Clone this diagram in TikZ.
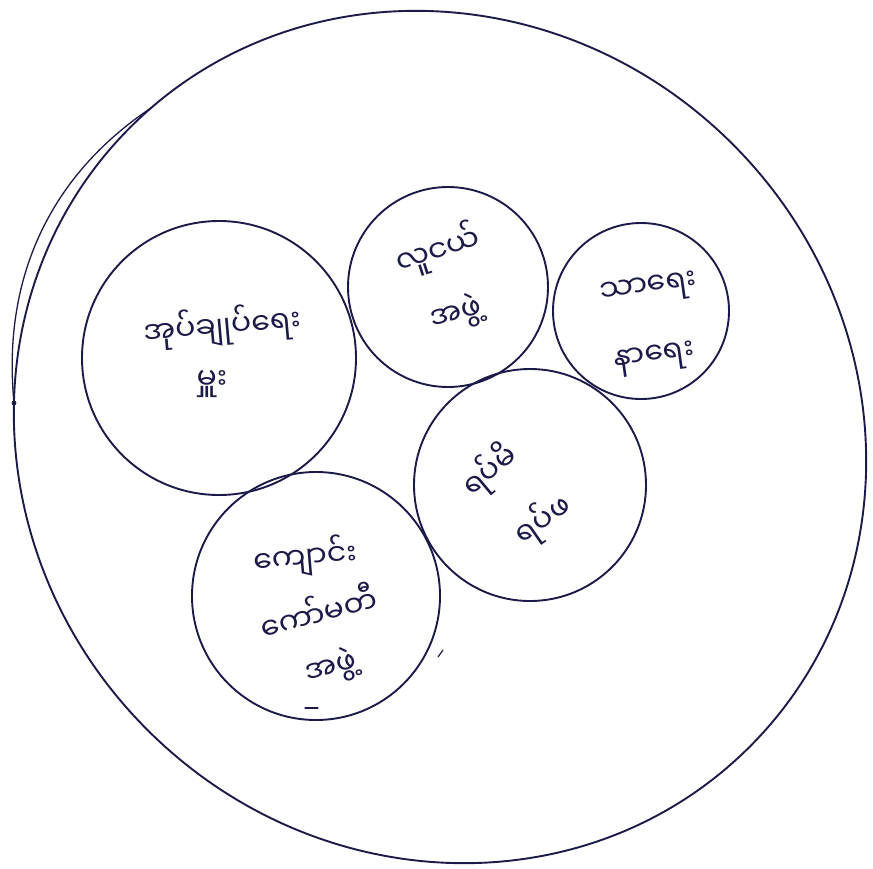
\documentclass[tikz,border=0pt]{standalone}
\usepackage{fontspec}
\usetikzlibrary{shapes.geometric}
\newfontfamily\mya[Script=Myanmar]{Noto Sans Myanmar UI}
\definecolor{ink}{RGB}{28,26,72}
\tikzset{
 ring/.style={draw=ink, line width=1.9pt, circle, inner sep=0pt, minimum size=#1},
 lbl/.style={text=ink, inner sep=0pt, font=\mya\fontsize{30}{34}\selectfont},
 stroke/.style={draw=ink, line width=1.9pt, line cap=round, line join=round}
}
\begin{document}
\begin{tikzpicture}[x=1pt,y=-1pt]
\useasboundingbox (0,0) rectangle (873,868);
\fill[white] (0,0) rectangle (873,868);
\node[draw=ink, line width=1.9pt, ellipse, inner sep=0pt, minimum width=876pt, minimum height=828pt, rotate=-45] (outer) at (440,437) {};
\draw[stroke, line width=1.3pt] plot[domain=176:222, samples=60, variable=\t, smooth]
 ({440+0.7071*((438+13*sin(180*(\t-176)/46))*cos(\t)+(414+13*sin(180*(\t-176)/46))*sin(\t))},
  {437+0.7071*((438+13*sin(180*(\t-176)/46))*cos(\t)-(414+13*sin(180*(\t-176)/46))*sin(\t))});
\fill[ink] (14,403) circle (2.4pt);
\node[ring=274pt] (c1) at (219,358) {};
\node[ring=200pt] (c2) at (448,287) {};
\node[ring=176pt] (c3) at (641,311) {};
\node[ring=232pt] (c4) at (530,485) {};
\node[ring=248pt] (c5) at (316,596) {};
\node[lbl, rotate=5] (t1a) at (222,326) {အုပ်ချုပ်ရေး};
\node[lbl] (t1b) at (212,384) {မှူး};
\node[lbl, rotate=18] (t2a) at (438,250) {လူငယ်};
\node[lbl, rotate=15] (t2b) at (456,314) {အဖွဲ့};
\node[lbl, rotate=8] (t3a) at (649,290) {သာရေး};
\node[lbl, rotate=8] (t3b) at (655,359) {နာရေး};
\node[lbl, rotate=40] (t4a) at (490,471) {ရပ်မိ};
\node[lbl, rotate=35] (t4b) at (543,520) {ရပ်ဖ};
\node[lbl, rotate=5] (t5a) at (305,557) {ကျောင်း};
\node[lbl, rotate=15] (t5b) at (318,611) {ကော်မတီ};
\node[lbl, rotate=15] (t5c) at (331,668) {အဖွဲ့};
\draw[stroke, line width=1.2pt] (438,657) -- (443,650);
\draw[stroke, line width=1.2pt] (305,708) -- (318,708);
\end{tikzpicture}
\end{document}
